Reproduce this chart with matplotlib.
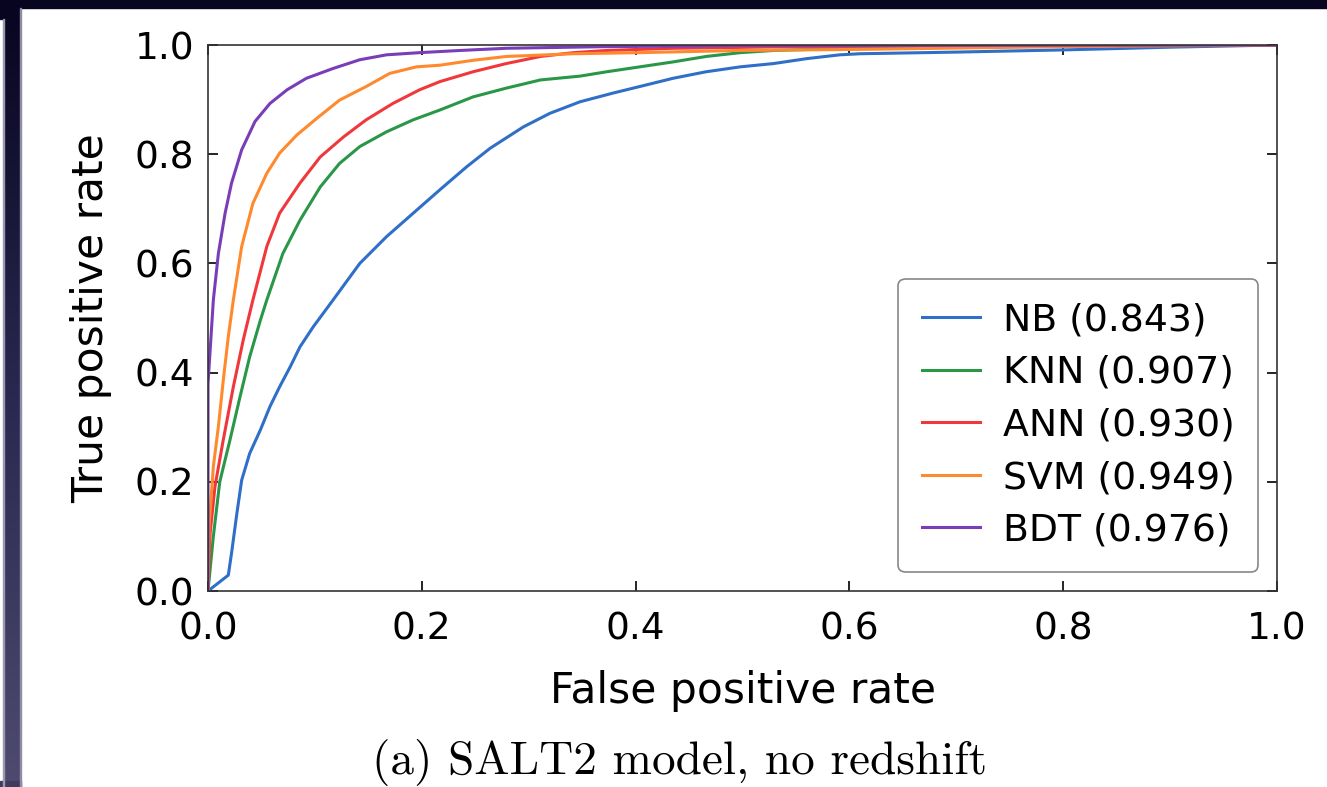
import numpy as np
import matplotlib
matplotlib.use('Agg')
import matplotlib.pyplot as plt
from matplotlib.patches import Rectangle

# Datos (curvas ROC)
nombres = ['NB', 'KNN', 'ANN', 'SVM', 'BDT']
auc = [0.843, 0.907, 0.930, 0.949, 0.976]
colores = ['#2f6fc7', '#2a9648', '#f0383c', '#ff8a2e', '#7a3db8']

fpr_nb = [0, 0.019, 0.022, 0.027, 0.0315, 0.039, 0.049, 0.058, 0.067, 0.077, 0.086, 0.0985,
          0.117, 0.142, 0.167, 0.192, 0.217, 0.242, 0.264, 0.295, 0.320, 0.348, 0.379, 0.404,
          0.435, 0.466, 0.498, 0.529, 0.560, 0.591, 0.61, 0.7, 0.8, 0.9, 1.0]
tpr_nb = [0, 0.029, 0.069, 0.142, 0.203, 0.252, 0.295, 0.338, 0.374, 0.411, 0.447, 0.484,
          0.533, 0.600, 0.649, 0.692, 0.735, 0.777, 0.811, 0.850, 0.875, 0.896, 0.912, 0.924,
          0.939, 0.951, 0.960, 0.966, 0.975, 0.982, 0.984, 0.987, 0.991, 0.996, 1.0]

fpr_knn = [0, 0.005, 0.011, 0.0206, 0.030, 0.039, 0.049, 0.055, 0.070, 0.086, 0.105, 0.123,
           0.142, 0.167, 0.192, 0.217, 0.248, 0.279, 0.311, 0.348, 0.373, 0.404, 0.435, 0.466,
           0.498, 0.529, 0.6, 0.7, 0.85, 1.0]
tpr_knn = [0, 0.1, 0.2, 0.277, 0.356, 0.429, 0.496, 0.533, 0.618, 0.679, 0.740, 0.783,
           0.814, 0.841, 0.863, 0.881, 0.905, 0.921, 0.936, 0.943, 0.951, 0.960, 0.969, 0.979,
           0.986, 0.990, 0.994, 0.997, 0.999, 1.0]

fpr_ann = [0, 0.002, 0.0065, 0.0143, 0.0237, 0.033, 0.042, 0.055, 0.067, 0.086, 0.105, 0.127,
           0.148, 0.173, 0.198, 0.217, 0.248, 0.279, 0.311, 0.342, 0.373, 0.435, 0.55, 0.7, 1.0]
tpr_ann = [0, 0.106, 0.191, 0.277, 0.374, 0.460, 0.533, 0.631, 0.692, 0.747, 0.795, 0.832,
           0.863, 0.893, 0.918, 0.933, 0.951, 0.966, 0.979, 0.986, 0.990, 0.994, 0.997, 0.999, 1.0]

fpr_svm = [0, 0.001, 0.004, 0.005, 0.0097, 0.0143, 0.019, 0.0237, 0.0315, 0.042, 0.055, 0.067,
           0.083, 0.102, 0.123, 0.148, 0.170, 0.195, 0.217, 0.248, 0.279, 0.342, 0.404, 0.498,
           0.61, 0.8, 1.0]
tpr_svm = [0, 0.12, 0.2, 0.228, 0.301, 0.386, 0.466, 0.533, 0.631, 0.710, 0.765, 0.802,
           0.835, 0.866, 0.899, 0.924, 0.948, 0.960, 0.963, 0.972, 0.979, 0.984, 0.986, 0.990,
           0.992, 0.997, 1.0]

fpr_bdt = [0, 0, 0.002, 0.005, 0.0097, 0.016, 0.022, 0.0315, 0.044, 0.058, 0.074, 0.092,
           0.117, 0.142, 0.167, 0.198, 0.236, 0.279, 0.373, 0.5, 1.0]
tpr_bdt = [0, 0.38, 0.441, 0.533, 0.618, 0.692, 0.747, 0.808, 0.860, 0.893, 0.918, 0.939,
           0.957, 0.973, 0.982, 0.986, 0.990, 0.994, 0.997, 0.999, 1.0]

fprs = [fpr_nb, fpr_knn, fpr_ann, fpr_svm, fpr_bdt]
tprs = [tpr_nb, tpr_knn, tpr_ann, tpr_svm, tpr_bdt]

ticks = [0.0, 0.2, 0.4, 0.6, 0.8, 1.0]
etiquetas_ticks = ['0.0', '0.2', '0.4', '0.6', '0.8', '1.0']


# Función para dibujar el marco oscuro de la diapositiva
def dibujar_marco(fig):
    W, H = 1327.0, 787.0
    fig.patches.append(Rectangle((0, 1 - 8 / H), 1, 8 / H, transform=fig.transFigure,
                                 color='#07051f', zorder=0))
    fig.patches.append(Rectangle((0, 1 - 19 / H), 4 / W, 19 / H, transform=fig.transFigure,
                                 color='#07051f', zorder=0))
    fig.patches.append(Rectangle((0, 0), 21 / W, 6 / H, transform=fig.transFigure,
                                 color='#3e3a5e', zorder=0))
    fig.patches.append(Rectangle((3 / W, 0), 1 / W, 1 - 19 / H, transform=fig.transFigure,
                                 color='#9a98b0', zorder=0))
    # barra lateral con degradado
    ax_barra = fig.add_axes([4 / W, 0, 16 / W, 1 - 8 / H])
    grad = np.linspace(0, 1, 256).reshape(-1, 1)
    cmap = matplotlib.colors.LinearSegmentedColormap.from_list('barra', ['#07051f', '#2a2850', '#4e4a70'])
    ax_barra.imshow(grad, aspect='auto', cmap=cmap, extent=[0, 1, 1, 0])
    ax_barra.axis('off')
    fig.patches.append(Rectangle((20 / W, 0), 1 / W, 1 - 8 / H, transform=fig.transFigure,
                                 color='#8e8ca6', zorder=0))


# Función para graficar las curvas ROC
def graficar_roc(ax):
    for nombre, a, c, x, y in zip(nombres, auc, colores, fprs, tprs):
        ax.plot(x, y, color=c, linewidth=2.2, label='%s (%.3f)' % (nombre, a))
    ax.set_xlim(0, 1)
    ax.set_ylim(0, 1)
    ax.set_xticks(ticks)
    ax.set_xticklabels(etiquetas_ticks)
    ax.set_yticks(ticks)
    ax.set_yticklabels(etiquetas_ticks)
    ax.tick_params(direction='in', top=True, right=True, length=7, width=1.2,
                   labelsize=27)
    ax.tick_params(axis='x', pad=15)
    ax.tick_params(axis='y', pad=10)
    for s in ax.spines.values():
        s.set_color('#333333')
        s.set_linewidth(1.2)
    ax.set_xlabel('False positive rate', fontsize=30.5, labelpad=16)
    ax.set_ylabel('True positive rate', fontsize=30.5, labelpad=16)
    leg = ax.legend(loc='lower right', fontsize=27.2, handlelength=1.55, handletextpad=0.6,
                    labelspacing=0.44, borderpad=0.62, borderaxespad=0.5, fancybox=True,
                    framealpha=1)
    leg.get_frame().set_edgecolor('#888888')
    leg.get_frame().set_linewidth(1.2)


def main():
    fig = plt.figure(figsize=(13.27, 7.87), dpi=100)
    fig.patch.set_facecolor('white')
    dibujar_marco(fig)
    ax = fig.add_axes([208 / 1327, 1 - 591 / 787, 1069 / 1327, 546 / 787])
    graficar_roc(ax)
    fig.text(680 / 1327, 1 - 763 / 787, '(a) SALT2 model, no redshift', family='cmr10',
             fontsize=34, ha='center', va='center')
    fig.savefig('out.png', dpi=100)


main()
